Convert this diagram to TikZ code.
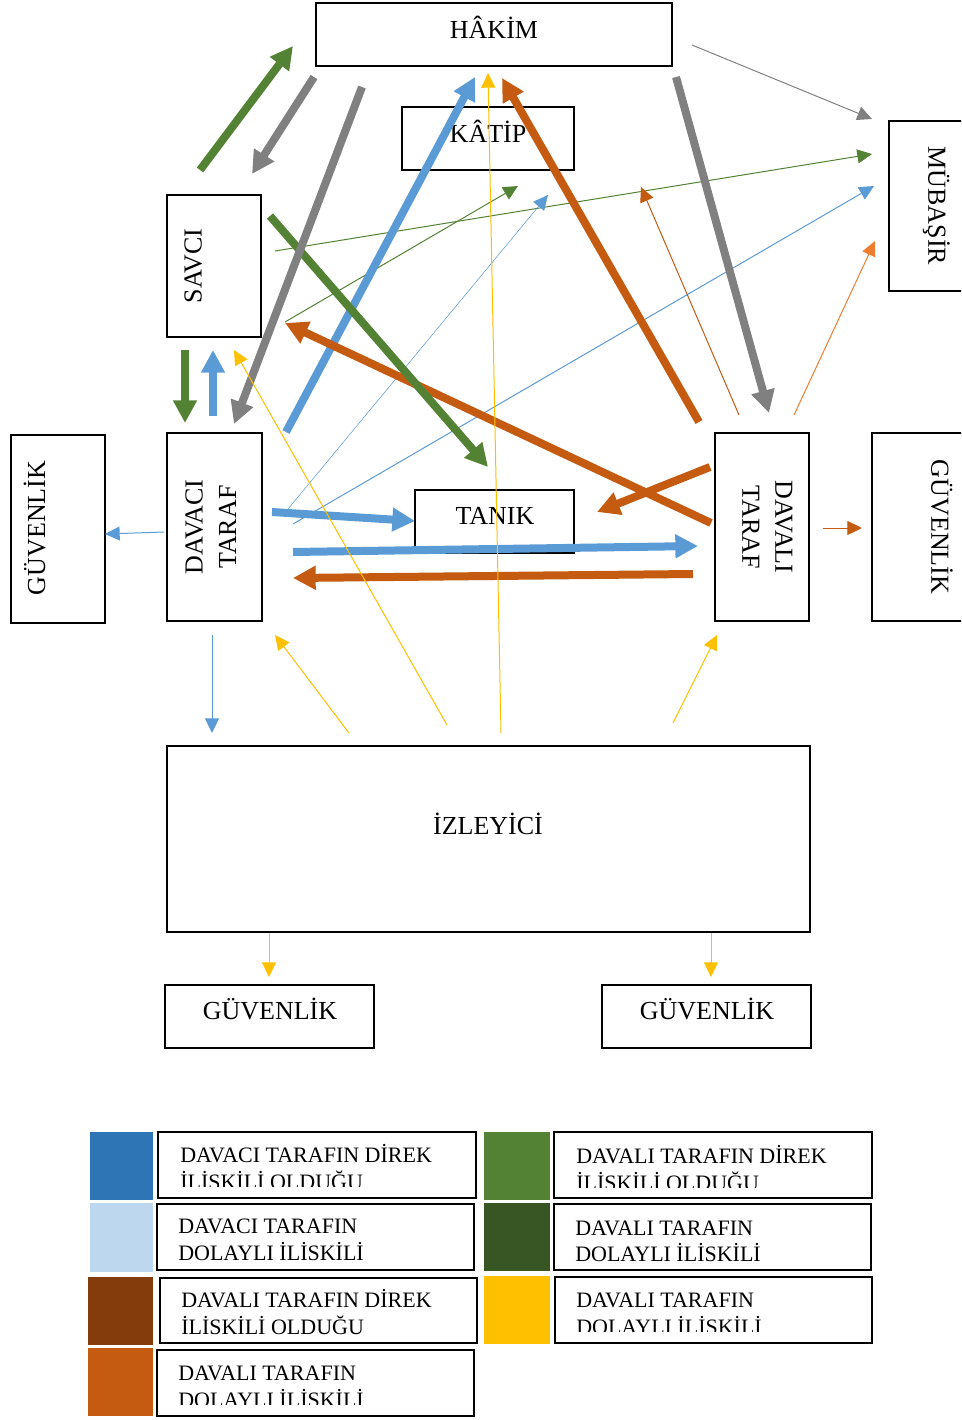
\documentclass[tikz,border=0pt]{standalone}
\usepackage{fontspec}
\setmainfont{Liberation Serif}
\usetikzlibrary{arrows.meta}
\definecolor{cblue}{HTML}{5B9BD5}
\definecolor{cgreen}{HTML}{548235}
\definecolor{cgray}{HTML}{808080}
\definecolor{corange}{HTML}{C55A11}
\definecolor{cyellow}{HTML}{FFC000}
\definecolor{clorange}{HTML}{ED7D31}
\definecolor{lgblue}{HTML}{2E75B6}
\definecolor{lglblue}{HTML}{BDD7EE}
\definecolor{lgbrown}{HTML}{843C0C}
\definecolor{lgorange}{HTML}{C55A11}
\definecolor{lggreen}{HTML}{548235}
\definecolor{lgdgreen}{HTML}{375623}
\definecolor{lgyellow}{HTML}{FFC000}
\newcommand\mkbox[6][]{\node[box,#1,minimum width={(#5-#3)*0.75pt},minimum height={(#6-#4)*0.75pt}] (#2) at ({(#3+#5)/2},{(#4+#6)/2}) {};}
\begin{document}
\begin{tikzpicture}[x=0.75pt,y=-0.75pt,
  box/.style={draw=black,line width=1.5pt,inner sep=0pt,outer sep=0pt},
  lbl/.style={font=\fontsize{19.5}{23}\selectfont,inner sep=0pt,text height=12.9pt,text depth=0pt},
  leg/.style={font=\fontsize{16.5}{20}\selectfont,inner sep=0pt,anchor=base west},
  bigarr/.style={line width=6pt,-{Triangle[length=17pt,width=17pt]}},
  smallarr/.style={line width=0.75pt,-{Triangle[length=11pt,width=10.5pt]}},
]
\clip (0,0) rectangle (961,1420);
% boxes
\mkbox{hakim}{316}{3}{672}{66}
\mkbox{katip}{402}{107}{574}{170}
\mkbox{mubasir}{889}{121}{983}{291}
\mkbox{savci}{167}{195}{261}{337}
\mkbox{guvL}{11}{435}{105}{623}
\mkbox{davaci}{167}{433}{262}{621}
\mkbox{tanik}{415}{490}{574}{553}
\mkbox{davali}{715}{433}{809}{621}
\mkbox{guvR}{872}{433}{966}{621}
\mkbox{izleyici}{167}{746}{810}{932}
\mkbox{guvBL}{165}{985}{374}{1048}
\mkbox{guvBR}{602}{985}{811}{1048}
% labels
\node[lbl] (hakimT) at (494,29.5) {HÂKİM};
\node[lbl] (katipT) at (488,133.5) {KÂTİP};
\node[lbl,rotate=-90] (mubasirT) at (937,206) {MÜBAŞİR};
\node[lbl,rotate=90] (savciT) at (193,266) {SAVCI};
\node[lbl,rotate=90] (guvLT) at (36.5,528) {GÜVENLİK};
\node[lbl,rotate=90] (davaciT1) at (194,527) {DAVACI};
\node[lbl,rotate=90] (davaciT2) at (227.5,527) {TARAF};
\node[lbl] (tanikT) at (495,516) {TANIK};
\node[lbl,rotate=-90] (davaliT1) at (784,527) {DAVALI};
\node[lbl,rotate=-90] (davaliT2) at (751,527) {TARAF};
\node[lbl,rotate=-90] (guvRT) at (940,527) {GÜVENLİK};
\node[lbl] (izleyiciT) at (488,826) {İZLEYİCİ};
\node[lbl] (guvBLT) at (270,1011) {GÜVENLİK};
\node[lbl] (guvBRT) at (707,1011) {GÜVENLİK};
% arrow end points
\coordinate (a1s) at (200,170); \coordinate (a1e) at (293,46);
\coordinate (a2s) at (314,77); \coordinate (a2e) at (252,174);
\coordinate (a3s) at (362,87); \coordinate (a3e) at (234,424);
\coordinate (a4s) at (286,432); \coordinate (a4e) at (475,77);
\coordinate (a5s) at (501,733); \coordinate (a5e) at (488,73);
\coordinate (a6s) at (699,422); \coordinate (a6e) at (502,78);
\coordinate (a7s) at (692,45); \coordinate (a7e) at (872,119);
\coordinate (a8s) at (676,77); \coordinate (a8e) at (769,413);
\coordinate (a9s) at (275,251); \coordinate (a9e) at (872,154);
\coordinate (a10s) at (293,524); \coordinate (a10e) at (874,186);
\coordinate (a11s) at (739,415); \coordinate (a11e) at (641,187);
\coordinate (a12s) at (794,415); \coordinate (a12e) at (875,241);
\coordinate (a13s) at (285,322); \coordinate (a13e) at (518,186);
\coordinate (a14s) at (288,509); \coordinate (a14e) at (548,195);
\coordinate (a15s) at (270,216); \coordinate (a15e) at (488,467);
\coordinate (a16s) at (711,523); \coordinate (a16e) at (285,323);
\coordinate (a17s) at (710,467); \coordinate (a17e) at (597,512);
\coordinate (a18s) at (272,512); \coordinate (a18e) at (415,521);
\coordinate (a19s) at (293,552); \coordinate (a19e) at (698,546);
\coordinate (a20s) at (693,574); \coordinate (a20e) at (293,578);
\coordinate (a21s) at (185,350); \coordinate (a21e) at (185,423);
\coordinate (a22s) at (213,416); \coordinate (a22e) at (213,350);
\coordinate (a23s) at (447,725); \coordinate (a23e) at (234,350);
\coordinate (a24s) at (164,532); \coordinate (a24e) at (105,534);
\coordinate (a25s) at (212,635); \coordinate (a25e) at (212,733);
\coordinate (a26s) at (349,733); \coordinate (a26e) at (275,635);
\coordinate (a27s) at (673,723); \coordinate (a27e) at (717,635);
\coordinate (a28s) at (823,528); \coordinate (a28e) at (862,528);
\coordinate (a29s) at (269,933); \coordinate (a29e) at (269,977);
\coordinate (a30s) at (711,933); \coordinate (a30e) at (711,977);
% thin arrows
\draw[smallarr,cgray] (a7s) -- (a7e);
\draw[smallarr,cgreen] (a9s) -- (a9e);
\draw[smallarr,cblue] (a10s) -- (a10e);
\draw[smallarr,corange] (a11s) -- (a11e);
\draw[smallarr,clorange] (a12s) -- (a12e);
\draw[smallarr,cgreen] (a13s) -- (a13e);
\draw[smallarr,cblue,line width=0.4pt] (a14s) -- (a14e);
\draw[smallarr,cblue] (a24s) -- (a24e);
\draw[smallarr,cblue] (a25s) -- (a25e);
\draw[smallarr,cyellow] (a26s) -- (a26e);
\draw[smallarr,cyellow] (a27s) -- (a27e);
\draw[smallarr,corange] (a28s) -- (a28e);
\draw[smallarr,cyellow] (a29s) -- (a29e);
\draw[smallarr,cyellow] (a30s) -- (a30e);
% thick arrows
\draw[bigarr,cgreen] (a1s) -- (a1e);
\draw[bigarr,cgray] (a2s) -- (a2e);
\draw[bigarr,cblue] (a4s) -- (a4e);
\draw[bigarr,corange] (a6s) -- (a6e);
\draw[bigarr,cgray] (a8s) -- (a8e);
\draw[bigarr,corange] (a16s) -- (a16e);
\draw[bigarr,cgreen] (a15s) -- (a15e);
\draw[bigarr,cgray] (a3s) -- (a3e);
\draw[bigarr,corange] (a17s) -- (a17e);
\draw[bigarr,cblue] (a18s) -- (a18e);
\draw[bigarr,cblue] (a19s) -- (a19e);
\draw[bigarr,corange] (a20s) -- (a20e);
\draw[bigarr,cgreen] (a21s) -- (a21e);
\draw[bigarr,cblue] (a22s) -- (a22e);
\draw[smallarr,cyellow] (a5s) -- (a5e);
\draw[smallarr,cyellow] (a23s) -- (a23e);
% legend
\mkbox[draw=none,fill=lgblue]{sq1}{90}{1132}{153}{1200}
\mkbox[draw=none,fill=lglblue]{sq2}{90}{1203}{153}{1272}
\mkbox[draw=none,fill=lgbrown]{sq3}{88}{1277}{153}{1345}
\mkbox[draw=none,fill=lgorange]{sq4}{88}{1348}{153}{1416}
\mkbox[draw=none,fill=lggreen]{sq5}{484}{1132}{550}{1200}
\mkbox[draw=none,fill=lgdgreen]{sq6}{484}{1203}{550}{1271}
\mkbox[draw=none,fill=lgyellow]{sq7}{484}{1276}{550}{1344}
\mkbox{lb1}{158}{1132}{476}{1198}
\mkbox{lb2}{157}{1204}{474}{1270}
\mkbox{lb3}{160}{1278}{477}{1343}
\mkbox{lb4}{157}{1350}{474}{1416}
\mkbox{lb5}{554}{1132}{872}{1198}
\mkbox{lb6}{554}{1204}{871}{1270}
\mkbox{lb7}{555}{1277}{872}{1343}
\node[leg] (l1a) at (180,1162) {DAVACI TARAFIN DİREK};
\begin{scope}\clip (160,1170) rectangle (474,1186.5);
\node[leg] (l1b) at (180,1189) {İLİSKİLİ OLDUĞU};\end{scope}
\node[leg] (l2a) at (178,1233) {DAVACI TARAFIN};
\node[leg] (l2b) at (178,1260) {DOLAYLI İLİSKİLİ};
\node[leg] (l3a) at (181,1307) {DAVALI TARAFIN DİREK};
\node[leg] (l3b) at (181,1334) {İLİSKİLİ OLDUĞU};
\node[leg] (l4a) at (178,1380) {DAVALI TARAFIN};
\begin{scope}\clip (160,1388) rectangle (472,1404.5);
\node[leg] (l4b) at (178,1407) {DOLAYLI İLİSKİLİ};\end{scope}
\node[leg] (l5a) at (576,1163) {DAVALI TARAFIN DİREK};
\begin{scope}\clip (556,1171) rectangle (870,1187);
\node[leg] (l5b) at (576,1190) {İLİSKİLİ OLDUĞU};\end{scope}
\node[leg] (l6a) at (575,1235) {DAVALI TARAFIN};
\node[leg] (l6b) at (575,1261) {DOLAYLI İLİSKİLİ};
\node[leg] (l7a) at (576,1307) {DAVALI TARAFIN};
\begin{scope}\clip (557,1315) rectangle (870,1331);
\node[leg] (l7b) at (576,1334) {DOLAYLI İLİSKİLİ};\end{scope}
\end{tikzpicture}
\end{document}
